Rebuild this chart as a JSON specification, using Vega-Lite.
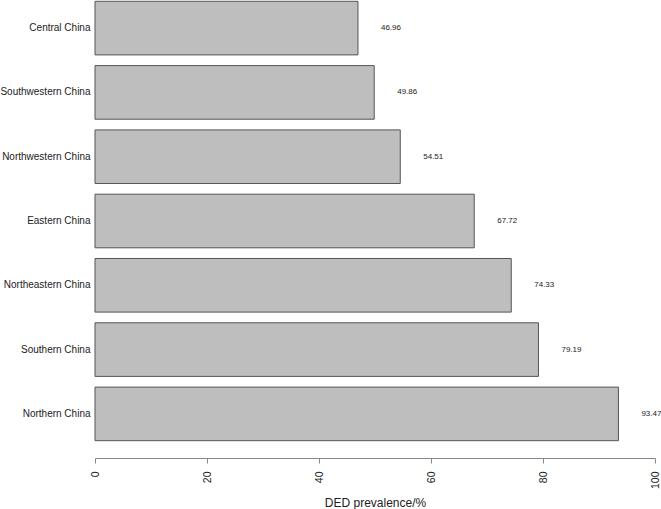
{
  "$schema": "https://vega.github.io/schema/vega-lite/v6.json",
  "autosize": {"type": "none"},
  "padding": {"left": 95, "top": 0, "right": 6, "bottom": 51},
  "width": 560,
  "height": 458,
  "background": "white",
  "config": {
    "view": {"stroke": null},
    "font": "Liberation Sans",
    "axis": {"labelFont": "Liberation Sans", "titleFont": "Liberation Sans", "labelColor": "#222", "titleColor": "#222"}
  },
  "data": {
    "values": [
      {"region": "Central China", "prevalence": 46.96},
      {"region": "Southwestern China", "prevalence": 49.86},
      {"region": "Northwestern China", "prevalence": 54.51},
      {"region": "Eastern China", "prevalence": 67.72},
      {"region": "Northeastern China", "prevalence": 74.33},
      {"region": "Southern China", "prevalence": 79.19},
      {"region": "Northern China", "prevalence": 93.47}
    ]
  },
  "encoding": {
    "y": {
      "field": "region",
      "type": "nominal",
      "sort": ["Central China", "Southwestern China", "Northwestern China", "Eastern China", "Northeastern China", "Southern China", "Northern China"],
      "scale": {"paddingInner": 0.1664, "paddingOuter": 0.1447, "align": 0.07},
      "axis": {"title": null, "domain": false, "ticks": false, "labelPadding": 5, "labelFontSize": 10, "labelFontWeight": "normal"}
    },
    "x": {
      "field": "prevalence",
      "type": "quantitative",
      "scale": {"domain": [0, 100], "nice": false, "zero": true},
      "axis": {
        "title": "DED prevalence/%",
        "titleFontSize": 12,
        "titleFontWeight": "normal",
        "titlePadding": 9,
        "values": [0, 20, 40, 60, 80, 100],
        "labelAngle": -90,
        "labelFontSize": 10.5,
        "labelPadding": 8,
        "tickSize": 5,
        "tickColor": "#888",
        "domainColor": "#888",
        "grid": false
      }
    }
  },
  "layer": [
    {
      "mark": {"type": "bar", "fill": "#bebebe", "stroke": "#555", "strokeWidth": 1}
    },
    {
      "mark": {"type": "text", "dx": 33, "align": "center", "baseline": "middle", "fontSize": 8, "color": "#222"},
      "encoding": {"text": {"field": "prevalence", "type": "quantitative", "format": ".2f"}}
    }
  ]
}
